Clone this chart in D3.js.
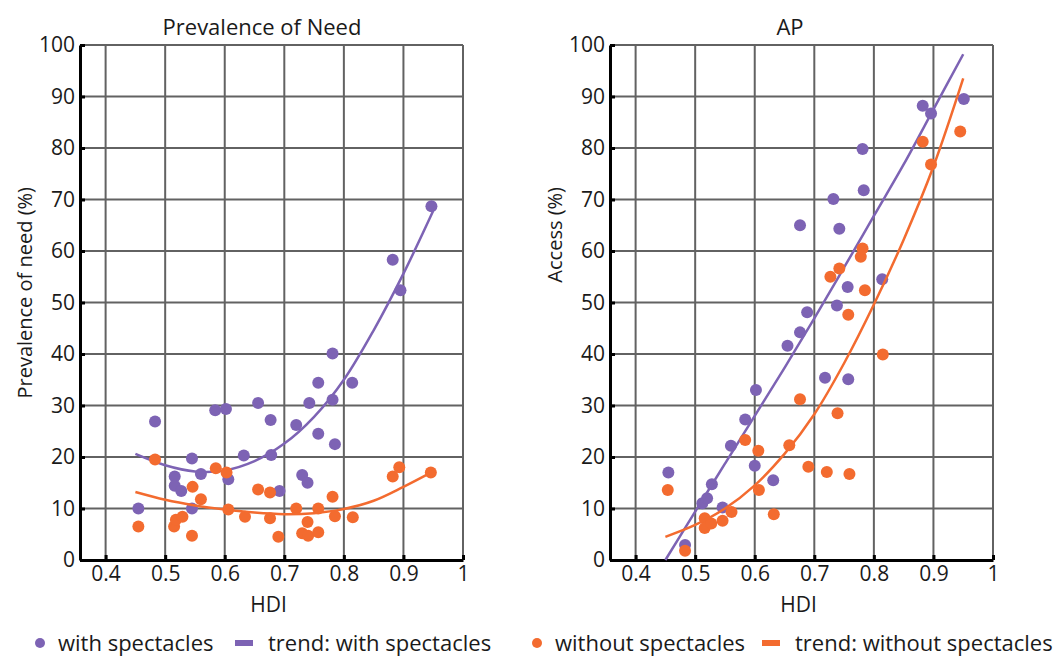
<!DOCTYPE html>
<html>
<head>
<meta charset="utf-8">
<script src="https://cdn.jsdelivr.net/npm/d3@7"></script>
<style>
  body { margin: 0; background: #fff; }
  text { font-family: "Open Sans", sans-serif; fill: #1a1a1a; }
</style>
</head>
<body>
<svg id="chart" width="1058" height="656"></svg>
<script>
/* Tick values */
var xTicks = [0.4, 0.5, 0.6, 0.7, 0.8, 0.9, 1];
var xTickLabels = ["0.4", "0.5", "0.6", "0.7", "0.8", "0.9", "1"];
var yTicks = [0, 10, 20, 30, 40, 50, 60, 70, 80, 90, 100];

/* Prevalence of need: [HDI, %] */
var needWith = [
  [0.455, 10], [0.483, 26.9], [0.516, 16.2], [0.516, 14.4], [0.527, 13.4],
  [0.545, 19.7], [0.545, 10], [0.56, 16.7], [0.584, 29.1], [0.602, 29.3],
  [0.606, 15.7], [0.632, 20.3], [0.656, 30.5], [0.677, 27.2], [0.678, 20.4],
  [0.692, 13.4], [0.72, 26.2], [0.73, 16.5], [0.739, 15], [0.742, 30.5],
  [0.757, 34.4], [0.757, 24.5], [0.781, 40.1], [0.781, 31.1], [0.785, 22.5],
  [0.814, 34.4], [0.882, 58.3], [0.895, 52.4], [0.947, 68.7]
];
var needWithout = [
  [0.455, 6.5], [0.483, 19.5], [0.515, 6.5], [0.518, 7.8], [0.529, 8.4],
  [0.545, 4.7], [0.546, 14.2], [0.56, 11.8], [0.585, 17.8], [0.603, 17],
  [0.606, 9.8], [0.634, 8.4], [0.656, 13.7], [0.676, 13.1], [0.676, 8.1],
  [0.69, 4.5], [0.72, 10], [0.73, 5.2], [0.739, 7.4], [0.74, 4.7],
  [0.757, 5.4], [0.757, 10], [0.781, 12.3], [0.785, 8.5], [0.815, 8.3],
  [0.882, 16.2], [0.893, 18], [0.946, 17]
];

/* Access: [HDI, %] */
var accessWith = [
  [0.455, 17], [0.483, 2.9], [0.512, 11], [0.52, 12], [0.528, 14.7],
  [0.546, 10.2], [0.56, 22.2], [0.584, 27.3], [0.602, 33], [0.6, 18.3],
  [0.631, 15.5], [0.655, 41.6], [0.676, 44.2], [0.688, 48.1], [0.718, 35.4],
  [0.738, 49.4], [0.757, 35.1], [0.676, 65], [0.732, 70.1], [0.742, 64.3],
  [0.756, 53], [0.783, 71.8], [0.781, 79.8], [0.814, 54.5], [0.882, 88.2],
  [0.896, 86.7], [0.951, 89.5]
];
var accessWithout = [
  [0.454, 13.6], [0.483, 1.8], [0.516, 8.1], [0.516, 6.2], [0.527, 7.1],
  [0.546, 7.6], [0.561, 9.3], [0.584, 23.3], [0.606, 21.2], [0.607, 13.6],
  [0.632, 8.9], [0.658, 22.3], [0.676, 31.2], [0.69, 18.1], [0.721, 17.1],
  [0.739, 28.5], [0.759, 16.7], [0.757, 47.6], [0.815, 39.9], [0.727, 55],
  [0.742, 56.6], [0.778, 58.9], [0.781, 60.5], [0.785, 52.4], [0.882, 81.2],
  [0.896, 76.8], [0.945, 83.2]
];

/* Trend curves */
var trendHdi = [0.45, 0.5, 0.55, 0.6, 0.65, 0.7, 0.75, 0.8, 0.85, 0.9, 0.95];
var needWithTrend = [20.6, 18.4, 17.2, 17.4, 19.2, 22.6, 27.8, 35.0, 44.6, 55.6, 67.8];
var needWithoutTrend = [13.2, 11.7, 10.6, 9.8, 9.2, 8.9, 9.1, 9.9, 11.5, 14.2, 17.2];
var accessWithTrend = [0, 9.4, 18.7, 28, 37.3, 46.9, 56.8, 66.8, 76.8, 87.5, 98.2];
var accessWithoutTrend = [4.5, 6.8, 10, 14.5, 20.6, 28.3, 38.2, 49.6, 62.2, 76.4, 93.5];

var purple = "#7d63b4";
var orange = "#f36b2f";
var gridColor = "#626262";

var svg = d3.select("#chart");

var plotTop = 45, plotBottom = 560, plotWidth = 383;
var dotRadius = 6;

var panels = [
  { left: 80, title: "Prevalence of Need", titleX: 262, yLabel: "Prevalence of need (%)",
    withPts: needWith, withoutPts: needWithout, withTrend: needWithTrend, withoutTrend: needWithoutTrend },
  { left: 610, title: "AP", titleX: 790, yLabel: "Access (%)",
    withPts: accessWith, withoutPts: accessWithout, withTrend: accessWithTrend, withoutTrend: accessWithoutTrend }
];

panels.forEach(function(p) {
  var xScale = d3.scaleLinear()
    .domain([0.357, 1])
    .range([0, plotWidth]);
  var yScale = d3.scaleLinear()
    .domain([0, 100])
    .range([plotBottom - plotTop, 0]);

  var g = svg.append("g")
    .attr("transform", `translate(${p.left}, ${plotTop})`);

  /* Grid */
  g.append("g").selectAll("line")
    .data(xTicks).enter()
    .append("line")
    .attr("x1", d => xScale(d)).attr("x2", d => xScale(d))
    .attr("y1", yScale(0)).attr("y2", yScale(100))
    .attr("stroke", gridColor).attr("stroke-width", 2);
  g.append("g").selectAll("line")
    .data(yTicks.slice(1)).enter()
    .append("line")
    .attr("x1", 0).attr("x2", xScale(1))
    .attr("y1", d => yScale(d)).attr("y2", d => yScale(d))
    .attr("stroke", gridColor).attr("stroke-width", 2);

  /* Axes */
  var xAxis = d3.axisBottom(xScale)
    .tickValues(xTicks)
    .tickFormat((d, i) => xTickLabels[i])
    .tickSizeInner(-5).tickSizeOuter(0).tickPadding(6);
  var yAxis = d3.axisLeft(yScale)
    .tickValues(yTicks)
    .tickSizeInner(-5).tickSizeOuter(0).tickPadding(5);

  var gx = g.append("g")
    .attr("transform", `translate(0, ${yScale(0)})`)
    .call(xAxis);
  var gy = g.append("g").call(yAxis);

  [gx, gy].forEach(function(a) {
    a.select(".domain").attr("stroke", "#000").attr("stroke-width", 3);
    a.selectAll(".tick line").attr("stroke", "#000").attr("stroke-width", 3);
    a.selectAll(".tick text")
      .style("font-family", "'Open Sans', sans-serif")
      .style("font-size", "21px")
      .attr("fill", "#1a1a1a");
  });

  /* Lines and dots */
  var line = d3.line()
    .x((d, i) => xScale(trendHdi[i]))
    .y(d => yScale(d))
    .curve(d3.curveCatmullRom);

  var series = [
    { pts: p.withPts, trend: p.withTrend, color: purple },
    { pts: p.withoutPts, trend: p.withoutTrend, color: orange }
  ];

  series.forEach(function(s) {
    g.append("g").selectAll("circle")
      .data(s.pts).enter()
      .append("circle")
      .attr("cx", d => xScale(d[0]))
      .attr("cy", d => yScale(d[1]))
      .attr("r", dotRadius)
      .attr("fill", s.color);
    g.append("path")
      .attr("d", line(s.trend))
      .attr("fill", "none")
      .attr("stroke", s.color)
      .attr("stroke-width", 2.5);
  });

  /* Titles */
  svg.append("text")
    .attr("x", p.titleX).attr("y", 35)
    .attr("text-anchor", "middle")
    .style("font-size", "22px")
    .text(p.title);

  svg.append("text")
    .attr("x", p.left + plotWidth / 2 - 3).attr("y", 612)
    .attr("text-anchor", "middle")
    .style("font-size", "21px")
    .text("HDI");

  svg.append("text")
    .attr("transform", `translate(${p.left - 48}, 187) rotate(-90)`)
    .attr("text-anchor", "end")
    .style("font-size", "20px")
    .text(p.yLabel);
});

/* Legend */
var legend = [
  { type: "dot", color: purple, label: "with spectacles", x: 40 },
  { type: "dash", color: purple, label: "trend: with spectacles", x: 244 },
  { type: "dot", color: orange, label: "without spectacles", x: 537 },
  { type: "dash", color: orange, label: "trend: without spectacles", x: 771 }
];

var lg = svg.append("g").attr("transform", "translate(0, 643)");
legend.forEach(function(d) {
  if (d.type === "dot") {
    lg.append("circle").attr("cx", d.x).attr("cy", 0).attr("r", 5).attr("fill", d.color);
  } else {
    lg.append("rect").attr("x", d.x - 9).attr("y", -3).attr("width", 18).attr("height", 6).attr("fill", d.color);
  }
  lg.append("text")
    .attr("x", d.x + (d.type === "dot" ? 18 : 24))
    .attr("y", 8)
    .style("font-size", "22px")
    .text(d.label);
});
</script>
</body>
</html>
